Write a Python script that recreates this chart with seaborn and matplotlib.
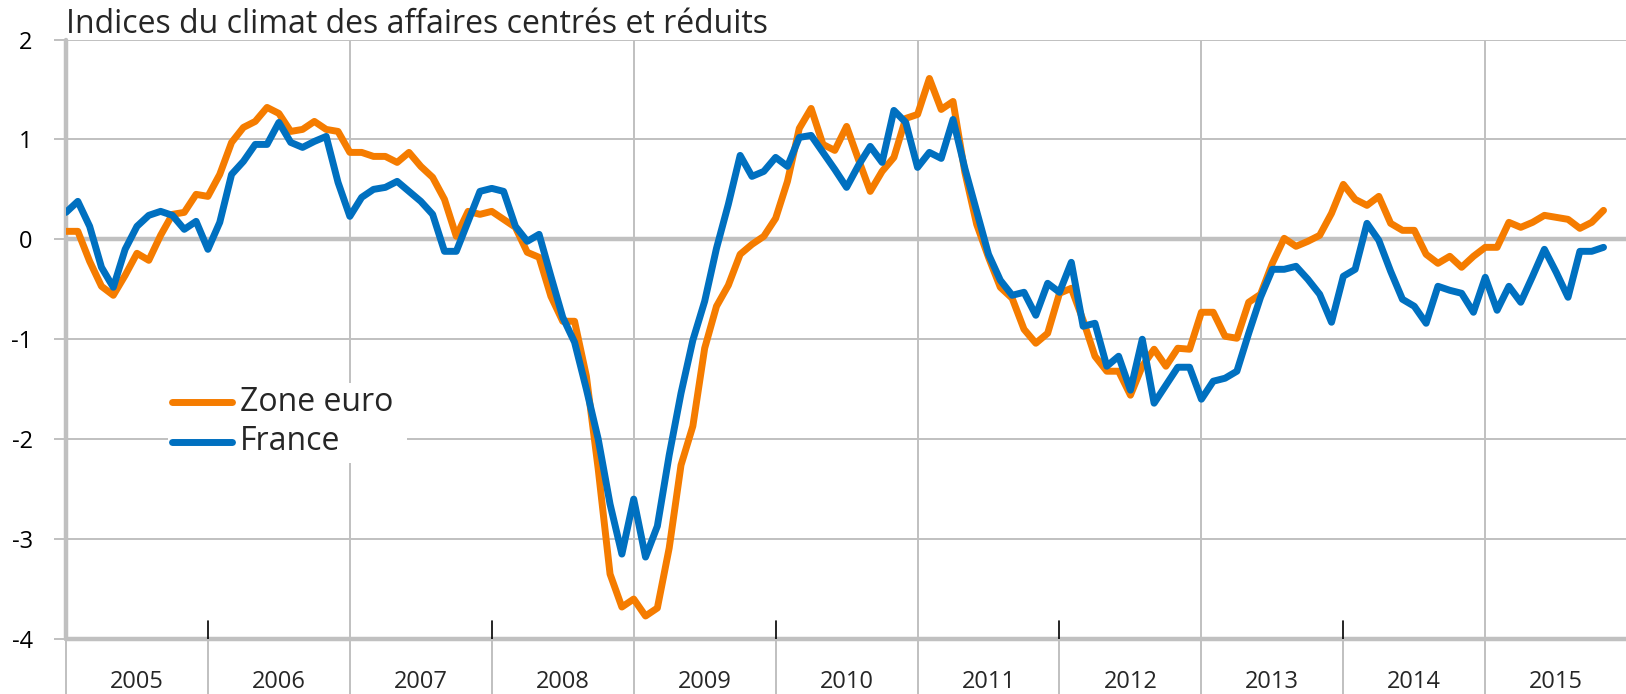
import numpy as np
import pandas as pd
import seaborn as sns
import matplotlib.pyplot as plt
import matplotlib.transforms as mtransforms
from matplotlib.patches import Rectangle

# Indices mensuels centrés-réduits, janvier 2005 -> novembre 2015
annees = ['2005', '2006', '2007', '2008', '2009', '2010',
          '2011', '2012', '2013', '2014', '2015']
series = ['Zone euro', 'France']

zone_euro = [
    0.08, 0.08, -0.22, -0.47, -0.56, -0.36, -0.14, -0.21, 0.04, 0.25, 0.27, 0.45,
    0.43, 0.65, 0.97, 1.12, 1.18, 1.32, 1.26, 1.08, 1.10, 1.18, 1.10, 1.08,
    0.87, 0.87, 0.83, 0.83, 0.77, 0.87, 0.73, 0.62, 0.40, 0.03, 0.28, 0.25,
    0.28, 0.20, 0.12, -0.13, -0.18, -0.57, -0.82, -0.82, -1.37, -2.30, -3.35, -3.68,
    -3.60, -3.77, -3.69, -3.09, -2.26, -1.87, -1.09, -0.67, -0.46, -0.15, -0.05, 0.03,
    0.21, 0.58, 1.11, 1.31, 0.95, 0.89, 1.13, 0.80, 0.48, 0.68, 0.82, 1.21,
    1.25, 1.61, 1.30, 1.38, 0.67, 0.15, -0.18, -0.48, -0.59, -0.90, -1.04, -0.94,
    -0.54, -0.49, -0.81, -1.17, -1.32, -1.32, -1.56, -1.27, -1.10, -1.27, -1.09, -1.10,
    -0.73, -0.73, -0.97, -0.99, -0.63, -0.55, -0.24, 0.01, -0.07, -0.02, 0.04, 0.26,
    0.55, 0.40, 0.34, 0.43, 0.16, 0.09, 0.09, -0.15, -0.24, -0.17, -0.28, -0.17,
    -0.08, -0.08, 0.17, 0.12, 0.17, 0.24, 0.22, 0.20, 0.11, 0.17, 0.29,
]

france = [
    0.27, 0.38, 0.13, -0.28, -0.48, -0.10, 0.13, 0.24, 0.28, 0.24, 0.10, 0.18,
    -0.10, 0.17, 0.65, 0.78, 0.95, 0.95, 1.17, 0.97, 0.92, 0.98, 1.03, 0.57,
    0.23, 0.42, 0.50, 0.52, 0.58, 0.48, 0.38, 0.25, -0.12, -0.12, 0.18, 0.48,
    0.51, 0.48, 0.13, -0.02, 0.05, -0.37, -0.78, -1.03, -1.50, -2.00, -2.65, -3.15,
    -2.60, -3.18, -2.87, -2.16, -1.54, -1.01, -0.62, -0.09, 0.35, 0.84, 0.63, 0.68,
    0.82, 0.73, 1.02, 1.04, 0.87, 0.70, 0.52, 0.74, 0.93, 0.77, 1.29, 1.17,
    0.72, 0.87, 0.81, 1.20, 0.71, 0.28, -0.15, -0.41, -0.56, -0.53, -0.76, -0.44,
    -0.53, -0.23, -0.87, -0.84, -1.27, -1.17, -1.51, -1.00, -1.64, -1.46, -1.28, -1.28,
    -1.60, -1.42, -1.39, -1.32, -0.94, -0.58, -0.30, -0.30, -0.27, -0.40, -0.55, -0.83,
    -0.37, -0.30, 0.16, -0.01, -0.32, -0.60, -0.67, -0.84, -0.47, -0.51, -0.54, -0.73,
    -0.38, -0.71, -0.47, -0.63, -0.37, -0.10, -0.33, -0.58, -0.12, -0.12, -0.08,
]

couleurs = {'Zone euro': '#f57c00', 'France': '#0070c0'}
gris = '#c0c0c0'

n = len(zone_euro)
mois = np.arange(n)
df = pd.DataFrame({
    'mois': np.concatenate([mois, mois]),
    'indice': zone_euro + france,
    'serie': ['Zone euro'] * n + ['France'] * n,
})

sns.set_theme(style='white')
plt.rcParams['font.family'] = ['Open Sans', 'DejaVu Sans']
plt.rcParams['axes.unicode_minus'] = False

W, H = 1626, 694
fig = plt.figure(figsize=(W / 100, H / 100), dpi=100)
x0, y_top, y_bot = 66, 39.5, 639
ax = fig.add_axes([x0 / W, 1 - y_bot / H, 1 - x0 / W, (y_bot - y_top) / H])


def ax_xy(px, py):
    # position en pixels de la figure (origine en haut à gauche) -> coordonnées axes
    return (px - x0) / (W - x0), (y_bot - py) / (y_bot - y_top)


# grille
for y in [2, 1, -1, -2, -3]:
    ax.axhline(y, color=gris, lw=1.4, zorder=0)
ax.axhline(0, color=gris, lw=3.2, zorder=0)
ax.axhline(-4, color=gris, lw=3.2, zorder=0, clip_on=False)
for k in range(2, len(annees), 2):
    ax.axvline(12 * k, color=gris, lw=1.4, zorder=0)
ax.axvline(0, color=gris, lw=3.2, zorder=0, clip_on=False)

sns.lineplot(data=df, x='mois', y='indice', hue='serie', hue_order=series,
             palette=couleurs, lw=5, ax=ax, zorder=3, legend=False,
             solid_joinstyle='round', solid_capstyle='round')

ax.set_xlim(0, 131.9)
ax.set_ylim(-4, 2)
for s in ax.spines.values():
    s.set_visible(False)
ax.set_xlabel('')
ax.set_ylabel('')
ax.set_xticks([])
ax.set_yticks(range(-4, 3))
ax.set_yticklabels([str(v) for v in range(-4, 3)])
ax.tick_params(axis='y', left=True, length=9, width=1.4, color=gris,
               pad=15, labelsize=17, labelcolor='black')

# séparateurs et libellés d'années sous l'axe
trans = mtransforms.blended_transform_factory(ax.transData, ax.transAxes)
for k in range(len(annees)):
    ax.plot([12 * k, 12 * k], [0, -0.095], transform=trans, color=gris,
            lw=1.4, clip_on=False)
    ax.text(12 * k + 6, -0.072, annees[k], transform=trans, ha='center',
            va='center', fontsize=17)
for k in range(1, len(annees), 2):
    ax.plot([12 * k, 12 * k], [-4, -3.82], color='black', lw=1.2, zorder=2)

# légende (cadre blanc qui masque la grille)
bx0, by0 = ax_xy(168, 463)
bx1, by1 = ax_xy(407, 383)
ax.add_patch(Rectangle((bx0, by0), bx1 - bx0, by1 - by0, transform=ax.transAxes,
                       facecolor='white', edgecolor='none', zorder=4))
for serie, py in zip(series, [402, 442]):
    hx0, hy = ax_xy(172, py)
    hx1, _ = ax_xy(232, py)
    ax.plot([hx0, hx1], [hy, hy], transform=ax.transAxes, color=couleurs[serie],
            lw=5, solid_capstyle='round', zorder=5)
    tx, _ = ax_xy(240, py)
    ax.text(tx, hy, serie, transform=ax.transAxes, ha='left', va='center',
            fontsize=23, zorder=5)

fig.text(x0 / W, 1 - 33 / H, 'Indices du climat des affaires centrés et réduits',
         ha='left', va='baseline', fontsize=23)

fig.savefig('out.png', dpi=100)
